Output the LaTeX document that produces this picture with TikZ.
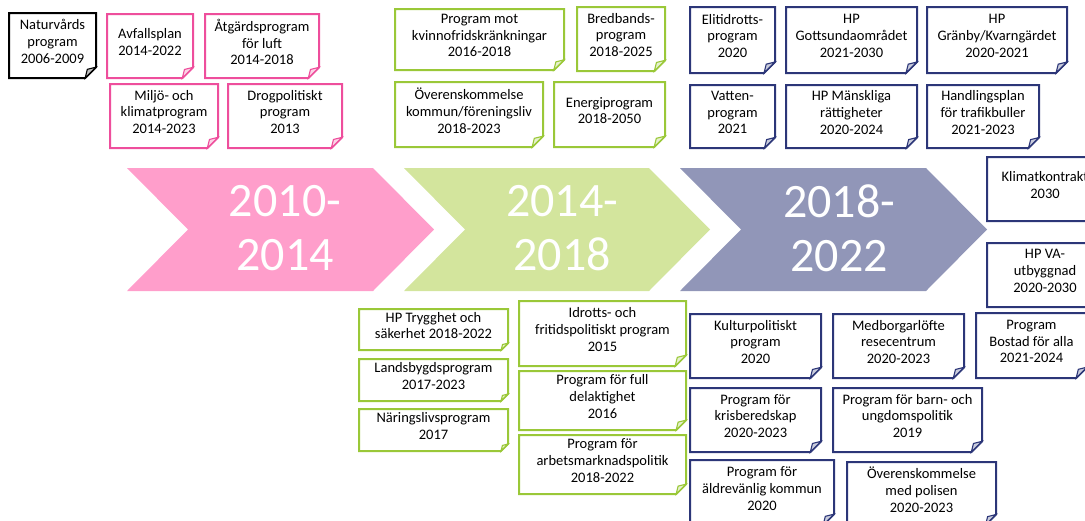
\documentclass[tikz,border=0pt]{standalone}
\usepackage{fontspec}
\setmainfont{Carlito}
\definecolor{pinkfill}{RGB}{255,158,203}
\definecolor{greenfill}{RGB}{211,229,157}
\definecolor{purplefill}{RGB}{145,150,184}
\definecolor{pinkline}{RGB}{238,78,156}
\definecolor{greenline}{RGB}{154,200,56}
\definecolor{navyline}{RGB}{44,54,120}
\definecolor{blackline}{RGB}{0,0,0}
\tikzset{
  noteline/.style={line width=2pt, fill=white, line join=miter},
  noteflap/.style={line width=1.1pt, line join=miter},
  notetext/.style={align=center, font=\fontsize{14.5}{16.8}\selectfont, inner sep=0pt, text=black},
  yeartext/.style={align=center, text=white, font=\fontsize{48}{54}\selectfont, inner sep=0pt},
}
\newcommand\mknote[7]{%
  \pgfmathsetmacro\fd{0.1667*(#5-#3)}%
  \draw[noteline,draw=#6] (#2,#3) -- (#4,#3) -- ({#4},{#5-\fd}) -- ({#4-\fd},{#5}) -- (#2,#5) -- cycle;
  \filldraw[noteflap,draw=#6,fill=#6!25] ({#4-\fd},{#5}) -- ({#4-0.8*\fd},{#5-0.8*\fd}) -- ({#4},{#5-\fd}) -- cycle;
  \node[notetext] (#1) at ({(#2+#4)/2},{(#3+#5)/2-4}) {#7};
}
\begin{document}
\begin{tikzpicture}[x=1pt,y=-1pt]
\useasboundingbox (0,0) rectangle (1085,520);
% chevrons
\fill[pinkfill] (127,168) -- (373,168) -- (434,229.5) -- (373,291) -- (127,291) -- (188,229.5) -- cycle;
\fill[greenfill] (404,168) -- (649,168) -- (710,229.5) -- (649,291) -- (404,291) -- (465,229.5) -- cycle;
\fill[purplefill] (680,168) -- (926,168) -- (987,229.5) -- (926,291) -- (680,291) -- (741,229.5) -- cycle;
\node[yeartext] (y1) at (285,228.5) {2010-\\2014};
\node[yeartext] (y2) at (562,228.5) {2014-\\2018};
\node[yeartext] (y3) at (839,228.5) {2018-\\2022};
% black
\mknote{nat}{9}{13}{96}{78}{blackline}{Naturvårds\\program\\2006-2009}
% pink
\mknote{avf}{107}{14}{193}{78}{pinkline}{Avfallsplan\\2014-2022}
\mknote{atg}{205}{14}{319}{78}{pinkline}{Åtgärdsprogram\\för luft\\2014-2018}
\mknote{mil}{110}{84}{218}{148}{pinkline}{Miljö- och\\klimatprogram\\2014-2023}
\mknote{drog}{228}{84}{342}{148}{pinkline}{Drogpolitiskt\\program\\2013}
% green top
\mknote{kvin}{395}{9}{564}{70}{greenline}{Program mot\\kvinnofridskränkningar\\2016-2018}
\mknote{bred}{577}{7}{665}{71}{greenline}{Bredbands-\\program\\2018-2025}
\mknote{over}{395}{82}{543}{147}{greenline}{Överenskommelse\\kommun/föreningsliv\\2018-2023}
\mknote{ener}{554}{82}{665}{147}{greenline}{Energiprogram\\2018-2050}
% navy top
\mknote{elit}{690}{7}{775}{73}{navyline}{Elitidrotts-\\program\\2020}
\mknote{gott}{786}{7}{917}{73}{navyline}{HP\\Gottsundaområdet\\2021-2030}
\mknote{gran}{927}{7}{1067}{73}{navyline}{HP\\Gränby/Kvarngärdet\\2020-2021}
\mknote{vatt}{690}{85}{775}{148}{navyline}{Vatten-\\program\\2021}
\mknote{mans}{786}{85}{917}{148}{navyline}{HP Mänskliga\\rättigheter\\2020-2024}
\mknote{hand}{927}{85}{1039}{148}{navyline}{Handlingsplan\\för trafikbuller\\2021-2023}
% right column
\mknote{klim}{987}{157}{1103}{221}{navyline}{Klimatkontrakt\\2030}
\mknote{hpva}{987}{243}{1103}{307}{navyline}{HP VA-\\utbyggnad\\2020-2030}
\mknote{bost}{976}{313}{1087}{378}{navyline}{Program\\Bostad för alla\\2021-2024}
% green bottom
\mknote{tryg}{359}{309}{508}{350}{greenline}{HP Trygghet och\\säkerhet 2018-2022}
\mknote{land}{359}{359}{508}{401}{greenline}{Landsbygdsprogram\\2017-2023}
\mknote{nar}{359}{409}{508}{451}{greenline}{Näringslivsprogram\\2017}
\mknote{idr}{519}{301}{686}{366}{greenline}{Idrotts- och\\fritidspolitiskt program\\2015}
\mknote{full}{519}{371}{686}{430}{greenline}{Program för full\\delaktighet\\2016}
\mknote{arb}{519}{435}{686}{494}{greenline}{Program för\\arbetsmarknadspolitik\\2018-2022}
% navy bottom
\mknote{kult}{690}{314}{821}{378}{navyline}{Kulturpolitiskt\\program\\2020}
\mknote{medb}{833}{314}{964}{378}{navyline}{Medborgarlöfte\\resecentrum\\2020-2023}
\mknote{kris}{690}{388}{821}{452}{navyline}{Program för\\krisberedskap\\2020-2023}
\mknote{barn}{833}{388}{982}{452}{navyline}{Program för barn- och\\ungdomspolitik\\2019}
\mknote{aldr}{690}{460}{834}{525}{navyline}{Program för\\äldrevänlig kommun\\2020}
\mknote{pol}{847}{462}{996}{525}{navyline}{Överenskommelse\\med polisen\\2020-2023}
\end{tikzpicture}
\end{document}
